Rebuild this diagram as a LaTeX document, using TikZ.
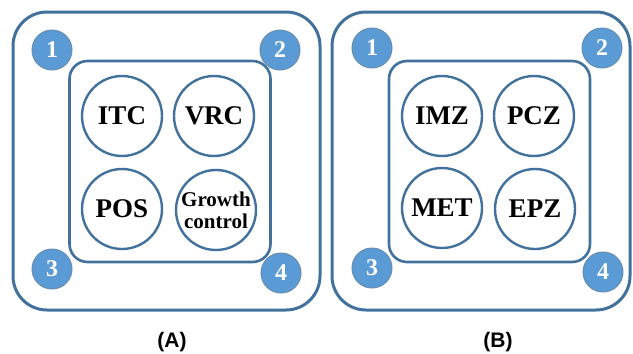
\documentclass[tikz,border=0pt]{standalone}
\usepackage{fontspec}
\setmainfont{Liberation Serif}
\newfontfamily\capfont{Liberation Sans}
\definecolor{framecol}{HTML}{41719C}
\definecolor{badgecol}{HTML}{5B9BD5}
\begin{document}
\begin{tikzpicture}[x=1pt,y=-1pt,
    frame/.style={draw=framecol,line width=3pt,rectangle,rounded corners=34pt,inner sep=0pt},
    box/.style={draw=framecol,line width=2.6pt,rectangle,rounded corners=18pt,inner sep=0pt},
    zone/.style={draw=framecol,line width=2.4pt,circle,minimum size=80pt,inner sep=0pt,align=center,font=\bfseries\fontsize{27}{27}\selectfont},
    badge/.style={draw=framecol!80,line width=1pt,fill=badgecol,circle,minimum size=40pt,inner sep=0pt,text=white,font=\bfseries\fontsize{24}{24}\selectfont},
    caption/.style={font=\capfont\bfseries\fontsize{21}{21}\selectfont}]
    \useasboundingbox (0,0) rectangle (633,354);
    %% Panel A
    \node[frame,minimum width=307pt,minimum height=298pt] (frameA) at (166.5,161) {};
    \node[box,minimum width=201pt,minimum height=201pt] (boxA) at (170,161.5) {};
    \node[zone] (itc) at (122,116) {ITC};
    \node[zone] (vrc) at (214,116) {VRC};
    \node[zone] (pos) at (122,209) {POS};
    \node[zone,font=\bfseries\fontsize{21}{22}\selectfont] (growth) at (216,210) {Growth\\control};
    \node[badge] (a1) at (52,50) {1};
    \node[badge] (a2) at (280,50) {2};
    \node[badge] (a3) at (52,269) {3};
    \node[badge] (a4) at (281,273) {4};
    %% Panel B
    \node[frame,minimum width=298pt,minimum height=298pt] (frameB) at (481,161) {};
    \node[box,minimum width=201pt,minimum height=201pt] (boxB) at (489.5,161.5) {};
    \node[zone] (imz) at (442,116) {IMZ};
    \node[zone] (pcz) at (534,116) {PCZ};
    \node[zone] (met) at (442,208) {MET};
    \node[zone] (epz) at (535,209) {EPZ};
    \node[badge] (b1) at (372,48) {1};
    \node[badge] (b2) at (602,48) {2};
    \node[badge] (b3) at (372,268) {3};
    \node[badge] (b4) at (603,272) {4};
    %% Captions
    \node[caption] (capA) at (172,342) {(A)};
    \node[caption] (capB) at (498,342) {(B)};
\end{tikzpicture}
\end{document}
